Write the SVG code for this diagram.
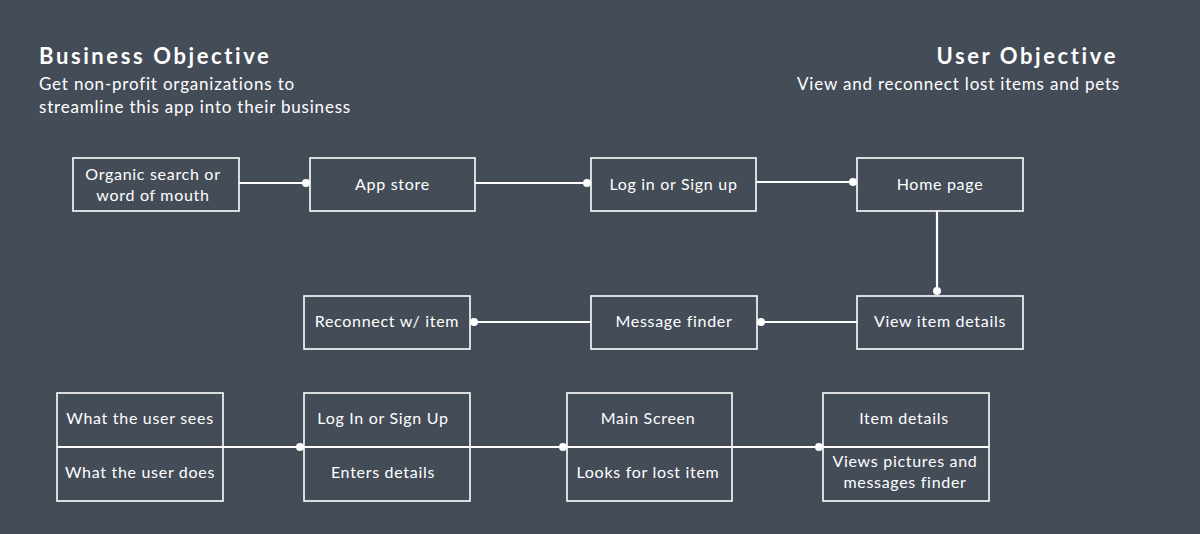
<svg xmlns="http://www.w3.org/2000/svg" width="1200" height="534" viewBox="0 0 1200 534">
<style>
.bg{fill:#444c58}
.box{fill:none;stroke:#ffffff;stroke-width:1.6}
.t{font-family:Lato,"Noto Sans",sans-serif;font-size:16px;fill:#ffffff;text-anchor:middle;letter-spacing:0.7px}
.h{font-family:Lato,"Noto Sans",sans-serif;font-size:22px;font-weight:bold;fill:#ffffff;letter-spacing:2.6px}
.s{font-family:Lato,"Noto Sans",sans-serif;font-size:17px;fill:#ffffff;letter-spacing:0.8px}
.ln{stroke:#ffffff;stroke-width:2.2;fill:none}
.dot{fill:#ffffff}
</style>
<rect class="bg" x="0" y="0" width="1200" height="534"/>
<g id="business-objective">
<text class="h" x="39" y="64">Business Objective</text>
<text class="s" x="39" y="90">Get non-profit organizations to</text>
<text class="s" x="39" y="113">streamline this app into their business</text>
</g>
<g id="user-objective">
<text class="h" x="1118" y="64" text-anchor="end">User Objective</text>
<text class="s" x="1120" y="90" text-anchor="end">View and reconnect lost items and pets</text>
</g>
<g id="connectors">
<line class="ln" x1="239" y1="183" x2="306" y2="183"/><circle class="dot" cx="306" cy="183" r="4"/>
<line class="ln" x1="475" y1="183" x2="587" y2="183"/><circle class="dot" cx="587" cy="183" r="4"/>
<line class="ln" x1="756" y1="182" x2="853" y2="182"/><circle class="dot" cx="853" cy="182" r="4"/>
<line class="ln" x1="937" y1="211" x2="937" y2="291"/><circle class="dot" cx="937" cy="291" r="4"/>
<line class="ln" x1="857" y1="322" x2="761" y2="322"/><circle class="dot" cx="761" cy="322" r="4"/>
<line class="ln" x1="591" y1="322" x2="474" y2="322"/><circle class="dot" cx="474" cy="322" r="4"/>
<line class="ln" x1="57" y1="447" x2="989" y2="447"/>
<circle class="dot" cx="300" cy="447" r="4"/>
<circle class="dot" cx="563" cy="447" r="4"/>
<circle class="dot" cx="819" cy="447" r="4"/>
</g>
<g id="organic">
<rect class="box" x="73" y="158" width="166" height="53"/>
<text class="t" x="153" y="180">Organic search or</text>
<text class="t" x="153" y="201">word of mouth</text>
</g>
<g id="app-store">
<rect class="box" x="310" y="158" width="165" height="53"/>
<text class="t" x="392.5" y="190">App store</text>
</g>
<g id="login">
<rect class="box" x="591" y="158" width="165" height="53"/>
<text class="t" x="673.5" y="190">Log in or Sign up</text>
</g>
<g id="home">
<rect class="box" x="857" y="158" width="166" height="53"/>
<text class="t" x="940" y="190">Home page</text>
</g>
<g id="view-item">
<rect class="box" x="857" y="296" width="166" height="53"/>
<text class="t" x="940" y="327">View item details</text>
</g>
<g id="message-finder">
<rect class="box" x="591" y="296" width="166" height="53"/>
<text class="t" x="674" y="327">Message finder</text>
</g>
<g id="reconnect">
<rect class="box" x="304" y="296" width="166" height="53"/>
<text class="t" x="387" y="327">Reconnect w/ item</text>
</g>
<g id="what-user">
<rect class="box" x="57" y="393" width="166" height="108"/>
<text class="t" x="140" y="424">What the user sees</text>
<text class="t" x="140" y="478">What the user does</text>
</g>
<g id="login-signup">
<rect class="box" x="304" y="393" width="166" height="108"/>
<text class="t" x="383" y="424">Log In or Sign Up</text>
<text class="t" x="383" y="478">Enters details</text>
</g>
<g id="main-screen">
<rect class="box" x="567" y="393" width="165" height="108"/>
<text class="t" x="648" y="424">Main Screen</text>
<text class="t" x="648" y="478">Looks for lost item</text>
</g>
<g id="item-details">
<rect class="box" x="823" y="393" width="166" height="108"/>
<text class="t" x="904" y="424">Item details</text>
<text class="t" x="905" y="467">Views pictures and</text>
<text class="t" x="905" y="488">messages finder</text>
</g>
</svg>
